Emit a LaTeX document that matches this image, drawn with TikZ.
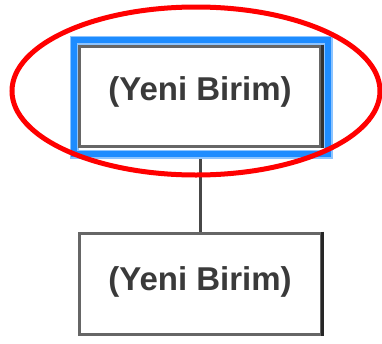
\documentclass[tikz,border=0pt]{standalone}
\usepackage{fontspec}
\setmainfont{Liberation Sans}
\definecolor{txt}{HTML}{3A3A3A}
\definecolor{hl}{HTML}{1E8CFF}
\definecolor{hllight}{HTML}{8CC4FF}
\pgfdeclarelayer{bg}
\pgfsetlayers{bg,main}
\begin{document}
\begin{tikzpicture}[x=1pt,y=-1pt,
  boxframe/.style={draw=black!60,line width=3pt,fill=white},
  lbl/.style={font=\fontsize{33}{36}\selectfont\bfseries,text=txt,inner sep=0pt,anchor=base}]
\useasboundingbox (0,0) rectangle (382,343);
% top box
\node[boxframe,minimum width=241pt,minimum height=100pt,inner sep=0pt] (top) at (200,96) {};
\draw[black!80,line width=3pt] (top.north east) -- (top.south east);
\node[lbl] (t1) at (200,100) {(Yeni Birim)};
% bottom box
\node[boxframe,minimum width=242pt,minimum height=101pt,inner sep=0pt] (bot) at (200,283.5) {};
\draw[black!85,line width=3pt] (bot.north east) -- (bot.south east);
\node[lbl] (t2) at (200,290) {(Yeni Birim)};
\begin{pgfonlayer}{bg}
% connector
\draw[black!72,line width=3pt] (top.south) -- (bot.north);
% highlight around top box
\draw[hllight,line width=9pt,fill=white] (74,40) rectangle (328,154);
\draw[hl,line width=6pt] (74,40) rectangle (328,154);
\end{pgfonlayer}
% red ellipse
\draw[red,line width=5pt] (196,91) ellipse [x radius=184,y radius=84];
\end{tikzpicture}
\end{document}
